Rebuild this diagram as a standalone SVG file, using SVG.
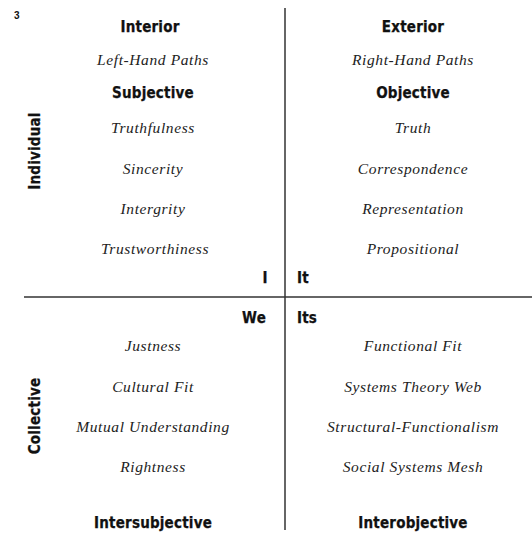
<svg xmlns="http://www.w3.org/2000/svg" width="532" height="533" viewBox="0 0 532 533">
  <style>
    .h { font-family: "DejaVu Sans Condensed", "DejaVu Sans", sans-serif; font-weight: bold; font-size: 15px; letter-spacing: 0.2px; fill: #111; stroke: #111; stroke-width: 0.25; text-anchor: middle; }
    .it { font-family: "Liberation Serif", "DejaVu Serif", serif; font-style: italic; font-size: 15.5px; letter-spacing: 0.6px; fill: #222; text-anchor: middle; }
    .axis { stroke: #333; stroke-width: 1.5; fill: none; }
  </style>
  <rect width="532" height="533" fill="#fff"/>
  <text x="14" y="19" font-family="Liberation Sans, sans-serif" font-size="10" font-weight="bold" fill="#111">3</text>

  <g id="axes">
    <line class="axis" x1="285" y1="8" x2="285" y2="530"/>
    <line class="axis" x1="24" y1="297" x2="532" y2="297"/>
  </g>

  <g id="side-labels">
    <text class="h" transform="translate(40,151) rotate(-90)">Individual</text>
    <text class="h" transform="translate(40,416) rotate(-90)">Collective</text>
  </g>

  <g id="upper-left">
    <text class="h" x="150" y="32">Interior</text>
    <text class="it" x="153" y="65">Left-Hand Paths</text>
    <text class="h" x="153" y="98">Subjective</text>
    <text class="it" x="153" y="133">Truthfulness</text>
    <text class="it" x="153" y="174">Sincerity</text>
    <text class="it" x="153" y="214">Intergrity</text>
    <text class="it" x="155" y="254">Trustworthiness</text>
    <text class="h" x="265" y="283">I</text>
  </g>

  <g id="upper-right">
    <text class="h" x="413" y="32">Exterior</text>
    <text class="it" x="413" y="65">Right-Hand Paths</text>
    <text class="h" x="413" y="98">Objective</text>
    <text class="it" x="413" y="133">Truth</text>
    <text class="it" x="413" y="174">Correspondence</text>
    <text class="it" x="413" y="214">Representation</text>
    <text class="it" x="413" y="254">Propositional</text>
    <text class="h" x="297" y="283" style="text-anchor:start">It</text>
  </g>

  <g id="lower-left">
    <text class="h" x="266" y="323" style="text-anchor:end">We</text>
    <text class="it" x="153" y="351">Justness</text>
    <text class="it" x="153" y="392">Cultural Fit</text>
    <text class="it" x="153" y="432">Mutual Understanding</text>
    <text class="it" x="153" y="472">Rightness</text>
    <text class="h" x="153" y="528">Intersubjective</text>
  </g>

  <g id="lower-right">
    <text class="h" x="297" y="323" style="text-anchor:start">Its</text>
    <text class="it" x="413" y="351">Functional Fit</text>
    <text class="it" x="413" y="392">Systems Theory Web</text>
    <text class="it" x="413" y="432">Structural-Functionalism</text>
    <text class="it" x="413" y="472">Social Systems Mesh</text>
    <text class="h" x="413" y="528">Interobjective</text>
  </g>
</svg>
